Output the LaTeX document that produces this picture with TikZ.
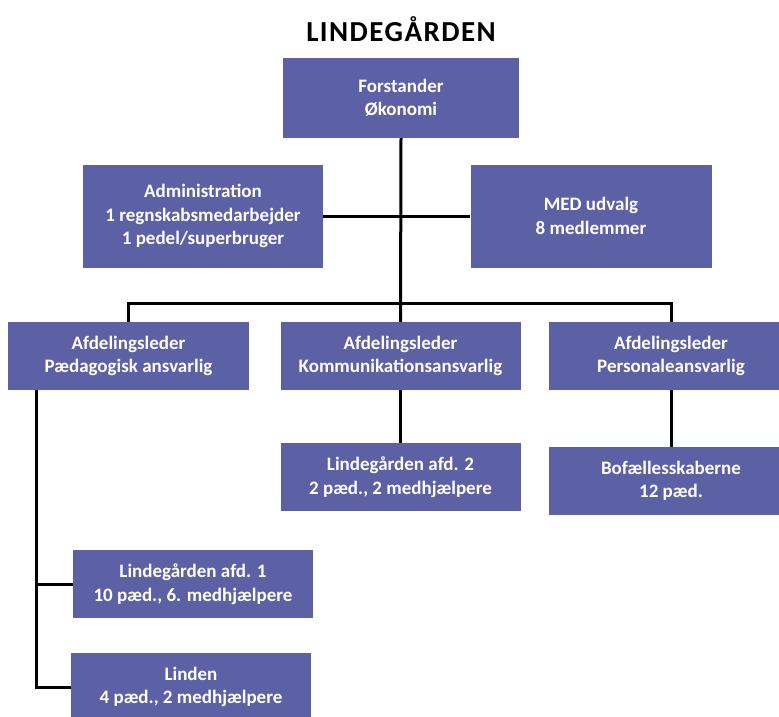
\documentclass[tikz,border=0pt]{standalone}
\usepackage{fontspec}
\setmainfont{Carlito}
\usepackage{xcolor}
\usetikzlibrary{positioning,calc}
\definecolor{orgblue}{RGB}{92,97,166}
\tikzset{
  orgbox/.style={fill=orgblue, text=white, font=\bfseries\fontsize{19}{23.5}\selectfont,
    align=center, inner sep=0pt, minimum width=240pt, minimum height=68pt},
  orgline/.style={line width=3pt, black}
}

\begin{document}
\begin{tikzpicture}[x=1pt,y=-1pt]
\clip (0,0) rectangle (779,716);
\fill[white] (0,0) rectangle (779,716);
\node[font=\bfseries\fontsize{29}{32}\selectfont\addfontfeature{LetterSpace=5}] (title) at (401,29) {LINDEGÅRDEN};
\node[orgbox, minimum width=236pt, minimum height=80pt] (forst) at (401,98) {Forstander\\Økonomi};
\node[orgbox, minimum height=103pt] (admin) at (203,216) {Administration\\1 regnskabsmedarbejder\\1 pedel/superbruger};
\node[orgbox, minimum width=241pt, minimum height=103pt] (med) at (591,216) {MED udvalg\\8 medlemmer};
\node[orgbox, minimum width=241pt] (afdA) at (128.5,356) {Afdelingsleder\\Pædagogisk ansvarlig};
\node[orgbox] (afdB) at (400.5,356) {Afdelingsleder\\Kommunikationsansvarlig};
\node[orgbox, minimum width=244pt] (afdC) at (671,356) {Afdelingsleder\\Personaleansvarlig};
\node[orgbox] (afd2) at (400.5,477) {Lindegården afd. 2\\2 pæd., 2 medhjælpere};
\node[orgbox, minimum width=244pt] (bof) at (671,481) {Bofællesskaberne\\12 pæd.};
\node[orgbox] (afd1) at (193,584) {Lindegården afd. 1\\10 pæd., 6. medhjælpere};
\node[orgbox] (linden) at (191,687) {Linden\\4 pæd., 2 medhjælpere};
\coordinate (bus) at (401,303);
\coordinate (spine) at (36,0);
\draw[orgline] (forst.south) -- (afdB.north);
\draw[orgline] (admin.east) -- (med.west);
\draw[orgline] (afdA.north) |- (bus) -| (afdC.north);
\draw[orgline] (afdB.south) -- (afd2.north);
\draw[orgline] (afdC.south) -- (bof.north);
\draw[orgline] (afdA.south -| spine) |- (linden.west);
\draw[orgline] (afd1.west) -- (afd1.west -| spine);
\end{tikzpicture}
\end{document}
